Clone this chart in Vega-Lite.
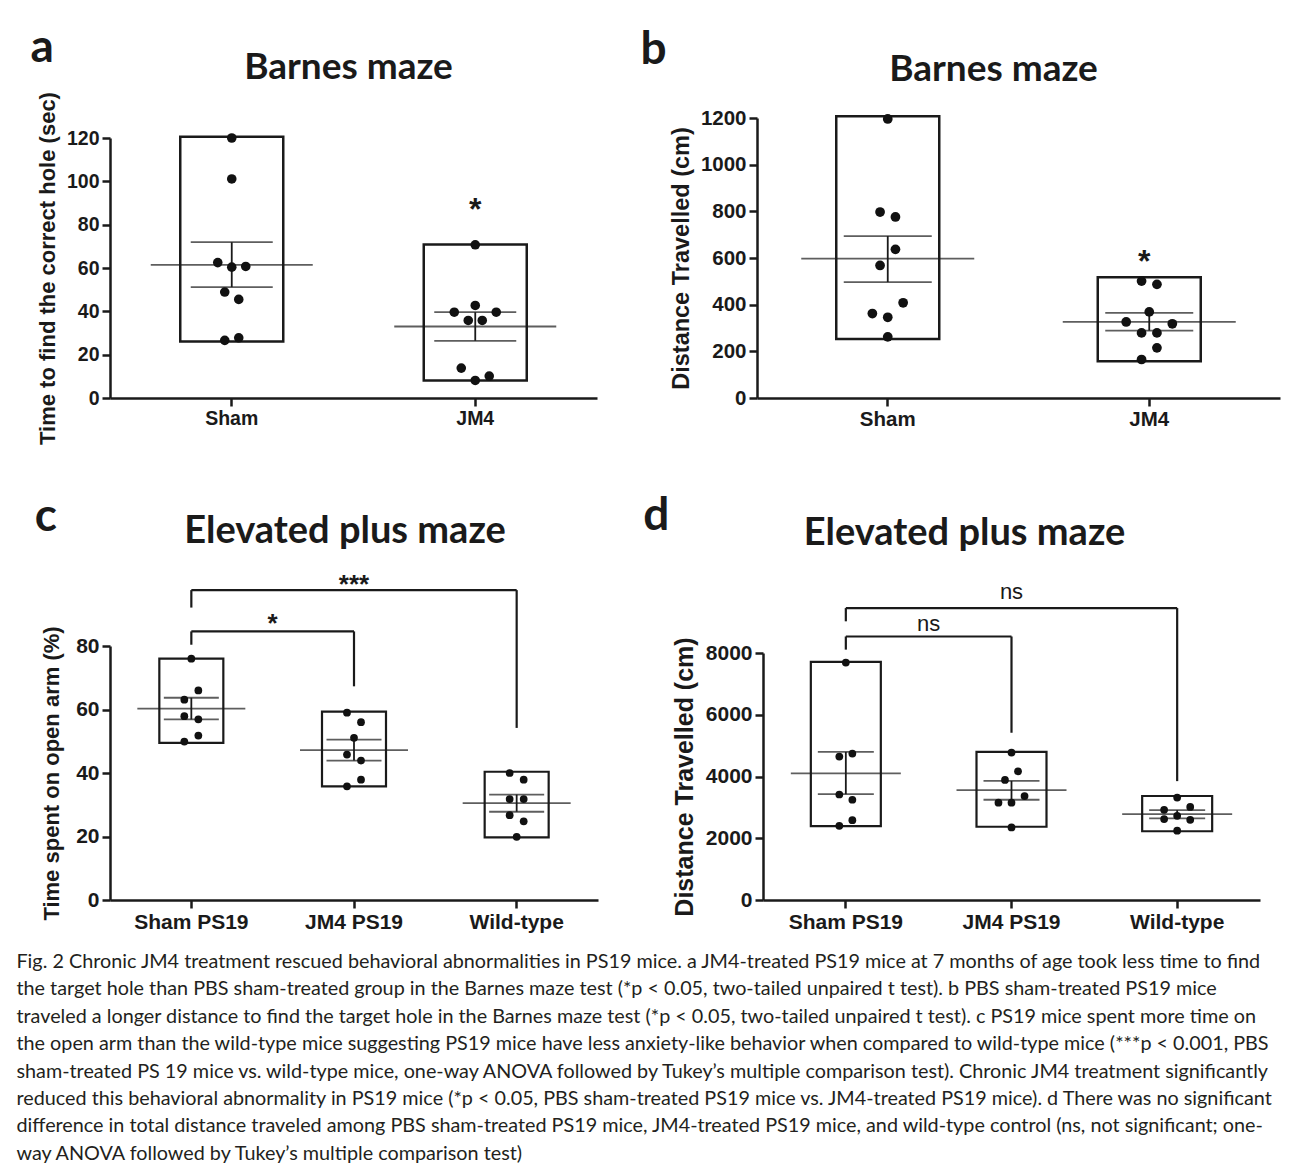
{
  "$schema": "https://vega.github.io/schema/vega-lite/v6.json",
  "background": "white",
  "padding": {"left": 16, "top": 25, "right": 5, "bottom": 5},
  "config": {
    "view": {"stroke": null},
    "axis": {"domainColor": "#1a1a1a", "domainWidth": 2.5, "tickColor": "#1a1a1a", "tickWidth": 2.5, "tickSize": 8, "labelColor": "#1a1a1a", "labelFont": "Liberation Sans", "labelFontWeight": "bold", "titleFont": "Liberation Sans", "titleFontWeight": "bold", "titleColor": "#1a1a1a", "grid": false, "labelPadding": 3},
    "axisY": {"format": "d"},
    "axisX": {"labelAngle": 0, "title": null},
    "title": {"color": "#1a1a1a"}
  },
  "datasets": {
    "a_sum": [
      {"g": "Sham", "lo": 26.1, "hi": 120.6, "mean": 61.4, "semLo": 51.2, "semHi": 71.9},
      {"g": "JM4", "lo": 8.1, "hi": 70.8, "mean": 33, "semLo": 26.4, "semHi": 39.6}
    ],
    "a_pts": [
      {"g": "Sham", "v": 120, "j": 0}, {"g": "Sham", "v": 101.1, "j": 0}, {"g": "Sham", "v": 62.5, "j": -2}, {"g": "Sham", "v": 60.4, "j": 0}, {"g": "Sham", "v": 60.7, "j": 2}, {"g": "Sham", "v": 48.9, "j": -1}, {"g": "Sham", "v": 45.5, "j": 1}, {"g": "Sham", "v": 26.6, "j": -1}, {"g": "Sham", "v": 27.8, "j": 1},
      {"g": "JM4", "v": 70.7, "j": 0}, {"g": "JM4", "v": 42.7, "j": 0}, {"g": "JM4", "v": 39.6, "j": -3}, {"g": "JM4", "v": 39.6, "j": 3}, {"g": "JM4", "v": 35.8, "j": -1}, {"g": "JM4", "v": 35.8, "j": 1}, {"g": "JM4", "v": 13.8, "j": -2}, {"g": "JM4", "v": 10.1, "j": 2}, {"g": "JM4", "v": 8.1, "j": 0}
    ],
    "a_sig": [{"g": "JM4", "v": 90, "t": "*"}],
    "b_sum": [
      {"g": "Sham", "lo": 253, "hi": 1207, "mean": 597, "semLo": 497, "semHi": 694},
      {"g": "JM4", "lo": 157, "hi": 518, "mean": 326, "semLo": 289, "semHi": 365}
    ],
    "b_pts": [
      {"g": "Sham", "v": 1196, "j": 0}, {"g": "Sham", "v": 797, "j": -1}, {"g": "Sham", "v": 776, "j": 1}, {"g": "Sham", "v": 637, "j": 1}, {"g": "Sham", "v": 568, "j": -1}, {"g": "Sham", "v": 408, "j": 2}, {"g": "Sham", "v": 362, "j": -2}, {"g": "Sham", "v": 346, "j": 0}, {"g": "Sham", "v": 262, "j": 0},
      {"g": "JM4", "v": 501, "j": -1}, {"g": "JM4", "v": 487, "j": 1}, {"g": "JM4", "v": 369, "j": 0}, {"g": "JM4", "v": 326, "j": -3}, {"g": "JM4", "v": 318, "j": 3}, {"g": "JM4", "v": 279, "j": -1}, {"g": "JM4", "v": 279, "j": 1}, {"g": "JM4", "v": 215, "j": 1}, {"g": "JM4", "v": 165, "j": -1}
    ],
    "b_sig": [{"g": "JM4", "v": 615, "t": "*"}],
    "c_sum": [
      {"g": "Sham PS19", "lo": 49.5, "hi": 76, "mean": 60.3, "semLo": 56.9, "semHi": 63.7},
      {"g": "JM4 PS19", "lo": 35.8, "hi": 59.3, "mean": 47.2, "semLo": 43.9, "semHi": 50.5},
      {"g": "Wild-type", "lo": 19.7, "hi": 40.4, "mean": 30.5, "semLo": 27.8, "semHi": 33.2}
    ],
    "c_pts": [
      {"g": "Sham PS19", "v": 76, "j": 0}, {"g": "Sham PS19", "v": 66, "j": 1}, {"g": "Sham PS19", "v": 63.1, "j": -1}, {"g": "Sham PS19", "v": 57.9, "j": -1}, {"g": "Sham PS19", "v": 56.9, "j": 1}, {"g": "Sham PS19", "v": 51.8, "j": 1}, {"g": "Sham PS19", "v": 49.9, "j": -1},
      {"g": "JM4 PS19", "v": 59, "j": -1}, {"g": "JM4 PS19", "v": 56, "j": 1}, {"g": "JM4 PS19", "v": 51.1, "j": 0}, {"g": "JM4 PS19", "v": 45.8, "j": -1}, {"g": "JM4 PS19", "v": 43.9, "j": 1}, {"g": "JM4 PS19", "v": 37.9, "j": 1}, {"g": "JM4 PS19", "v": 35.8, "j": -1},
      {"g": "Wild-type", "v": 40, "j": -1}, {"g": "Wild-type", "v": 37.9, "j": 1}, {"g": "Wild-type", "v": 31.8, "j": -1}, {"g": "Wild-type", "v": 31.8, "j": 1}, {"g": "Wild-type", "v": 26.7, "j": -1}, {"g": "Wild-type", "v": 24.8, "j": 1}, {"g": "Wild-type", "v": 19.9, "j": 0}
    ],
    "c_br": [
      {"g": "Sham PS19", "g2": "JM4 PS19", "v1": 84.6, "v2": 84.6},
      {"g": "Sham PS19", "g2": "Sham PS19", "v1": 80.4, "v2": 84.6},
      {"g": "JM4 PS19", "g2": "JM4 PS19", "v1": 67.3, "v2": 84.6},
      {"g": "Sham PS19", "g2": "Wild-type", "v1": 97.6, "v2": 97.6},
      {"g": "Sham PS19", "g2": "Sham PS19", "v1": 92.1, "v2": 97.6},
      {"g": "Wild-type", "g2": "Wild-type", "v1": 54.2, "v2": 97.6}
    ],
    "c_sig": [
      {"g": "JM4 PS19", "v": 88.7, "t": "*", "pos": "edge"},
      {"g": "JM4 PS19", "v": 101, "t": "***", "pos": "center"}
    ],
    "d_sum": [
      {"g": "Sham PS19", "lo": 2391, "hi": 7712, "mean": 4103, "semLo": 3429, "semHi": 4795},
      {"g": "JM4 PS19", "lo": 2372, "hi": 4795, "mean": 3557, "semLo": 3247, "semHi": 3856},
      {"g": "Wild-type", "lo": 2226, "hi": 3369, "mean": 2782, "semLo": 2643, "semHi": 2909}
    ],
    "d_pts": [
      {"g": "Sham PS19", "v": 7692, "j": 0}, {"g": "Sham PS19", "v": 4744, "j": 1}, {"g": "Sham PS19", "v": 4647, "j": -1}, {"g": "Sham PS19", "v": 3417, "j": -1}, {"g": "Sham PS19", "v": 3247, "j": 1}, {"g": "Sham PS19", "v": 2585, "j": 1}, {"g": "Sham PS19", "v": 2404, "j": -1},
      {"g": "JM4 PS19", "v": 4776, "j": 0}, {"g": "JM4 PS19", "v": 4167, "j": 1}, {"g": "JM4 PS19", "v": 3888, "j": -1}, {"g": "JM4 PS19", "v": 3365, "j": 2}, {"g": "JM4 PS19", "v": 3151, "j": -2}, {"g": "JM4 PS19", "v": 3151, "j": 0}, {"g": "JM4 PS19", "v": 2349, "j": 0},
      {"g": "Wild-type", "v": 3317, "j": 0}, {"g": "Wild-type", "v": 3016, "j": 2}, {"g": "Wild-type", "v": 2920, "j": -2}, {"g": "Wild-type", "v": 2727, "j": 0}, {"g": "Wild-type", "v": 2621, "j": -2}, {"g": "Wild-type", "v": 2599, "j": 2}, {"g": "Wild-type", "v": 2246, "j": 0}
    ],
    "d_br": [
      {"g": "Sham PS19", "g2": "JM4 PS19", "v1": 8535, "v2": 8535},
      {"g": "Sham PS19", "g2": "Sham PS19", "v1": 8109, "v2": 8535},
      {"g": "JM4 PS19", "g2": "JM4 PS19", "v1": 5417, "v2": 8535},
      {"g": "Sham PS19", "g2": "Wild-type", "v1": 9455, "v2": 9455},
      {"g": "Sham PS19", "g2": "Sham PS19", "v1": 9026, "v2": 9455},
      {"g": "Wild-type", "g2": "Wild-type", "v1": 3850, "v2": 9455}
    ],
    "d_sig": [
      {"g": "JM4 PS19", "v": 8888, "t": "ns", "pos": "edge"},
      {"g": "JM4 PS19", "v": 9913, "t": "ns", "pos": "center"}
    ]
  },
  "title": {
    "text": [
      "Fig. 2 Chronic JM4 treatment rescued behavioral abnormalities in PS19 mice. a JM4-treated PS19 mice at 7 months of age took less time to find",
      "the target hole than PBS sham-treated group in the Barnes maze test (*p < 0.05, two-tailed unpaired t test). b PBS sham-treated PS19 mice",
      "traveled a longer distance to find the target hole in the Barnes maze test (*p < 0.05, two-tailed unpaired t test). c PS19 mice spent more time on",
      "the open arm than the wild-type mice suggesting PS19 mice have less anxiety-like behavior when compared to wild-type mice (***p < 0.001, PBS",
      "sham-treated PS 19 mice vs. wild-type mice, one-way ANOVA followed by Tukey’s multiple comparison test). Chronic JM4 treatment significantly",
      "reduced this behavioral abnormality in PS19 mice (*p < 0.05, PBS sham-treated PS19 mice vs. JM4-treated PS19 mice). d There was no significant",
      "difference in total distance traveled among PBS sham-treated PS19 mice, JM4-treated PS19 mice, and wild-type control (ns, not significant; one-",
      "way ANOVA followed by Tukey’s multiple comparison test)"
    ],
    "orient": "bottom", "anchor": "start", "frame": "bounds", "dx": -14,
    "font": "Lato", "fontSize": 19.8, "fontWeight": "normal", "lineHeight": 27.4, "color": "#231f20", "offset": 20
  },
  "resolve": {"scale": {"xOffset": "independent"}},
  "spacing": 47,
  "vconcat": [
    {
      "spacing": 43,
      "resolve": {"scale": {"xOffset": "independent"}},
      "hconcat": [
        {
          "title": {"text": "a", "anchor": "start", "font": "Lato", "fontWeight": "bold", "fontSize": 46, "offset": -23, "dx": -6},
          "resolve": {"scale": {"xOffset": "independent"}},
          "vconcat": [
            {
              "title": {"text": "Barnes maze", "font": "Lato", "fontWeight": "bold", "fontSize": 37, "anchor": "middle", "frame": "group", "dx": -5, "offset": 4.5},
              "width": 487, "height": 280,
              "encoding": {"x": {"field": "g", "type": "nominal", "scale": {"domain": ["Sham", "JM4"], "paddingInner": 0, "paddingOuter": 0}, "axis": {"labelFontSize": 19.5}}},
              "layer": [
                {
                  "data": {"name": "a_sum"},
                  "mark": {"type": "bar", "width": 103, "fillOpacity": 0, "stroke": "#1a1a1a", "strokeWidth": 2.5},
                  "encoding": {
                    "y": {"field": "lo", "type": "quantitative", "scale": {"domain": [0, 120], "nice": false, "range": [280, 20]}, "axis": {"values": [0, 20, 40, 60, 80, 100, 120], "labelFontSize": 19.5, "titleFontSize": 22, "title": "Time to find the correct hole (sec)", "titlePadding": 7}},
                    "y2": {"field": "hi"}
                  }
                },
                {"data": {"name": "a_sum"}, "mark": {"type": "tick", "size": 162, "thickness": 1.8, "color": "#1a1a1a"}, "encoding": {"y": {"field": "mean", "type": "quantitative"}}},
                {"data": {"name": "a_sum"}, "mark": {"type": "tick", "size": 82, "thickness": 1.8, "color": "#1a1a1a"}, "encoding": {"y": {"field": "semHi", "type": "quantitative"}}},
                {"data": {"name": "a_sum"}, "mark": {"type": "tick", "size": 82, "thickness": 1.8, "color": "#1a1a1a"}, "encoding": {"y": {"field": "semLo", "type": "quantitative"}}},
                {"data": {"name": "a_sum"}, "mark": {"type": "rule", "strokeWidth": 1.8, "color": "#1a1a1a"}, "encoding": {"y": {"field": "semLo", "type": "quantitative"}, "y2": {"field": "semHi"}}},
                {"data": {"name": "a_pts"}, "mark": {"type": "circle", "size": 92, "color": "#111111", "opacity": 1}, "encoding": {"x": {"field": "g", "type": "nominal", "bandPosition": 0}, "xOffset": {"field": "j", "type": "quantitative", "scale": {"domain": [-17.4, 17.4], "range": [0, 243.5]}}, "y": {"field": "v", "type": "quantitative"}}},
                {"data": {"name": "a_sig"}, "mark": {"type": "text", "font": "Liberation Sans", "fontWeight": "bold", "fontSize": 32, "baseline": "middle", "dy": 7, "color": "#1a1a1a"}, "encoding": {"y": {"field": "v", "type": "quantitative"}, "text": {"field": "t"}}}
              ]
            }
          ]
        },
        {
          "title": {"text": "b", "anchor": "start", "font": "Lato", "fontWeight": "bold", "fontSize": 46, "offset": -23, "dx": -29},
          "resolve": {"scale": {"xOffset": "independent"}},
          "vconcat": [
            {
              "title": {"text": "Barnes maze", "font": "Lato", "fontWeight": "bold", "fontSize": 37, "anchor": "middle", "frame": "group", "dx": -25, "offset": 19},
              "width": 523, "height": 280,
              "encoding": {"x": {"field": "g", "type": "nominal", "scale": {"domain": ["Sham", "JM4"], "paddingInner": 0, "paddingOuter": 0}, "axis": {"labelFontSize": 20.5}}},
              "layer": [
                {
                  "data": {"name": "b_sum"},
                  "mark": {"type": "bar", "width": 103, "fillOpacity": 0, "stroke": "#1a1a1a", "strokeWidth": 2.5},
                  "encoding": {
                    "y": {"field": "lo", "type": "quantitative", "scale": {"domain": [0, 1200], "nice": false}, "axis": {"values": [0, 200, 400, 600, 800, 1000, 1200], "labelFontSize": 20.5, "titleFontSize": 23.5, "title": "Distance Travelled (cm)", "titlePadding": 7}},
                    "y2": {"field": "hi"}
                  }
                },
                {"data": {"name": "b_sum"}, "mark": {"type": "tick", "size": 173, "thickness": 1.8, "color": "#1a1a1a"}, "encoding": {"y": {"field": "mean", "type": "quantitative"}}},
                {"data": {"name": "b_sum"}, "mark": {"type": "tick", "size": 88, "thickness": 1.8, "color": "#1a1a1a"}, "encoding": {"y": {"field": "semHi", "type": "quantitative"}}},
                {"data": {"name": "b_sum"}, "mark": {"type": "tick", "size": 88, "thickness": 1.8, "color": "#1a1a1a"}, "encoding": {"y": {"field": "semLo", "type": "quantitative"}}},
                {"data": {"name": "b_sum"}, "mark": {"type": "rule", "strokeWidth": 1.8, "color": "#1a1a1a"}, "encoding": {"y": {"field": "semLo", "type": "quantitative"}, "y2": {"field": "semHi"}}},
                {"data": {"name": "b_pts"}, "mark": {"type": "circle", "size": 95, "color": "#111111", "opacity": 1}, "encoding": {"x": {"field": "g", "type": "nominal", "bandPosition": 0}, "xOffset": {"field": "j", "type": "quantitative", "scale": {"domain": [-17, 17], "range": [0, 261.5]}}, "y": {"field": "v", "type": "quantitative"}}},
                {"data": {"name": "b_sig"}, "mark": {"type": "text", "font": "Liberation Sans", "fontWeight": "bold", "fontSize": 32, "baseline": "middle", "dy": 7, "dx": -5, "color": "#1a1a1a"}, "encoding": {"y": {"field": "v", "type": "quantitative"}, "text": {"field": "t"}}}
              ]
            }
          ]
        }
      ]
    },
    {
      "spacing": 45,
      "resolve": {"scale": {"xOffset": "independent"}},
      "hconcat": [
        {
          "title": {"text": "c", "anchor": "start", "font": "Lato", "fontWeight": "bold", "fontSize": 46, "offset": -28, "dx": -6},
          "resolve": {"scale": {"xOffset": "independent"}},
          "vconcat": [
            {
              "title": {"text": "Elevated plus maze", "font": "Lato", "fontWeight": "bold", "fontSize": 38, "anchor": "middle", "frame": "group", "dx": -9, "offset": 21},
              "width": 488, "height": 254,
              "encoding": {"x": {"field": "g", "type": "nominal", "scale": {"domain": ["Sham PS19", "JM4 PS19", "Wild-type"], "paddingInner": 0, "paddingOuter": 0}, "axis": {"labelFontSize": 21}}},
              "layer": [
                {
                  "data": {"name": "c_sum"},
                  "mark": {"type": "bar", "width": 64, "fillOpacity": 0, "stroke": "#1a1a1a", "strokeWidth": 2.2},
                  "encoding": {
                    "y": {"field": "lo", "type": "quantitative", "scale": {"domain": [0, 80], "nice": false}, "axis": {"values": [0, 20, 40, 60, 80], "labelFontSize": 21, "titleFontSize": 22, "title": "Time spent on open arm (%)", "titlePadding": 12}},
                    "y2": {"field": "hi"}
                  }
                },
                {"data": {"name": "c_sum"}, "mark": {"type": "tick", "size": 108, "thickness": 1.8, "color": "#1a1a1a"}, "encoding": {"y": {"field": "mean", "type": "quantitative"}}},
                {"data": {"name": "c_sum"}, "mark": {"type": "tick", "size": 55, "thickness": 1.8, "color": "#1a1a1a"}, "encoding": {"y": {"field": "semHi", "type": "quantitative"}}},
                {"data": {"name": "c_sum"}, "mark": {"type": "tick", "size": 55, "thickness": 1.8, "color": "#1a1a1a"}, "encoding": {"y": {"field": "semLo", "type": "quantitative"}}},
                {"data": {"name": "c_sum"}, "mark": {"type": "rule", "strokeWidth": 1.8, "color": "#1a1a1a"}, "encoding": {"y": {"field": "semLo", "type": "quantitative"}, "y2": {"field": "semHi"}}},
                {"data": {"name": "c_pts"}, "mark": {"type": "circle", "size": 60, "color": "#111111", "opacity": 1}, "encoding": {"x": {"field": "g", "type": "nominal", "bandPosition": 0}, "xOffset": {"field": "j", "type": "quantitative", "scale": {"domain": [-11.6, 11.6], "range": [0, 162.67]}}, "y": {"field": "v", "type": "quantitative"}}},
                {"data": {"name": "c_br"}, "mark": {"type": "rule", "strokeWidth": 2.2, "color": "#1a1a1a"}, "encoding": {"x2": {"field": "g2"}, "y": {"field": "v1", "type": "quantitative"}, "y2": {"field": "v2"}}},
                {"data": {"name": "c_sig"}, "transform": [{"filter": "datum.pos == 'edge'"}], "mark": {"type": "text", "font": "Liberation Sans", "fontWeight": "bold", "fontSize": 26, "baseline": "middle", "dy": 6, "color": "#1a1a1a"}, "encoding": {"x": {"field": "g", "type": "nominal", "bandPosition": 0}, "y": {"field": "v", "type": "quantitative"}, "text": {"field": "t"}}},
                {"data": {"name": "c_sig"}, "transform": [{"filter": "datum.pos == 'center'"}], "mark": {"type": "text", "font": "Liberation Sans", "fontWeight": "bold", "fontSize": 26, "baseline": "middle", "dy": 6, "color": "#1a1a1a"}, "encoding": {"y": {"field": "v", "type": "quantitative"}, "text": {"field": "t"}}}
              ]
            }
          ]
        },
        {
          "title": {"text": "d", "anchor": "start", "font": "Lato", "fontWeight": "bold", "fontSize": 46, "offset": -25, "dx": -29},
          "resolve": {"scale": {"xOffset": "independent"}},
          "vconcat": [
            {
              "title": {"text": "Elevated plus maze", "font": "Lato", "fontWeight": "bold", "fontSize": 38, "anchor": "middle", "frame": "group", "dx": -47, "offset": 28},
              "width": 497, "height": 254,
              "encoding": {"x": {"field": "g", "type": "nominal", "scale": {"domain": ["Sham PS19", "JM4 PS19", "Wild-type"], "paddingInner": 0, "paddingOuter": 0}, "axis": {"labelFontSize": 21}}},
              "layer": [
                {
                  "data": {"name": "d_sum"},
                  "mark": {"type": "bar", "width": 70, "fillOpacity": 0, "stroke": "#1a1a1a", "strokeWidth": 2.2},
                  "encoding": {
                    "y": {"field": "lo", "type": "quantitative", "scale": {"domain": [0, 8000], "nice": false, "range": [254, 7]}, "axis": {"values": [0, 1000, 2000, 3000, 4000, 5000, 6000, 7000, 8000], "labelFontSize": 21, "titleFontSize": 25, "title": "Distance Travelled (cm)", "titlePadding": 8}},
                    "y2": {"field": "hi"}
                  }
                },
                {"data": {"name": "d_sum"}, "mark": {"type": "tick", "size": 110, "thickness": 1.8, "color": "#1a1a1a"}, "encoding": {"y": {"field": "mean", "type": "quantitative"}}},
                {"data": {"name": "d_sum"}, "mark": {"type": "tick", "size": 56, "thickness": 1.8, "color": "#1a1a1a"}, "encoding": {"y": {"field": "semHi", "type": "quantitative"}}},
                {"data": {"name": "d_sum"}, "mark": {"type": "tick", "size": 56, "thickness": 1.8, "color": "#1a1a1a"}, "encoding": {"y": {"field": "semLo", "type": "quantitative"}}},
                {"data": {"name": "d_sum"}, "mark": {"type": "rule", "strokeWidth": 1.8, "color": "#1a1a1a"}, "encoding": {"y": {"field": "semLo", "type": "quantitative"}, "y2": {"field": "semHi"}}},
                {"data": {"name": "d_pts"}, "mark": {"type": "circle", "size": 60, "color": "#111111", "opacity": 1}, "encoding": {"x": {"field": "g", "type": "nominal", "bandPosition": 0}, "xOffset": {"field": "j", "type": "quantitative", "scale": {"domain": [-12.7, 12.7], "range": [0, 165.67]}}, "y": {"field": "v", "type": "quantitative"}}},
                {"data": {"name": "d_br"}, "mark": {"type": "rule", "strokeWidth": 2.2, "color": "#1a1a1a"}, "encoding": {"x2": {"field": "g2"}, "y": {"field": "v1", "type": "quantitative"}, "y2": {"field": "v2"}}},
                {"data": {"name": "d_sig"}, "transform": [{"filter": "datum.pos == 'edge'"}], "mark": {"type": "text", "font": "Liberation Sans", "fontSize": 22, "baseline": "middle", "dy": -2, "color": "#1a1a1a"}, "encoding": {"x": {"field": "g", "type": "nominal", "bandPosition": 0}, "y": {"field": "v", "type": "quantitative"}, "text": {"field": "t"}}},
                {"data": {"name": "d_sig"}, "transform": [{"filter": "datum.pos == 'center'"}], "mark": {"type": "text", "font": "Liberation Sans", "fontSize": 22, "baseline": "middle", "dy": -2, "color": "#1a1a1a"}, "encoding": {"y": {"field": "v", "type": "quantitative"}, "text": {"field": "t"}}}
              ]
            }
          ]
        }
      ]
    }
  ]
}
